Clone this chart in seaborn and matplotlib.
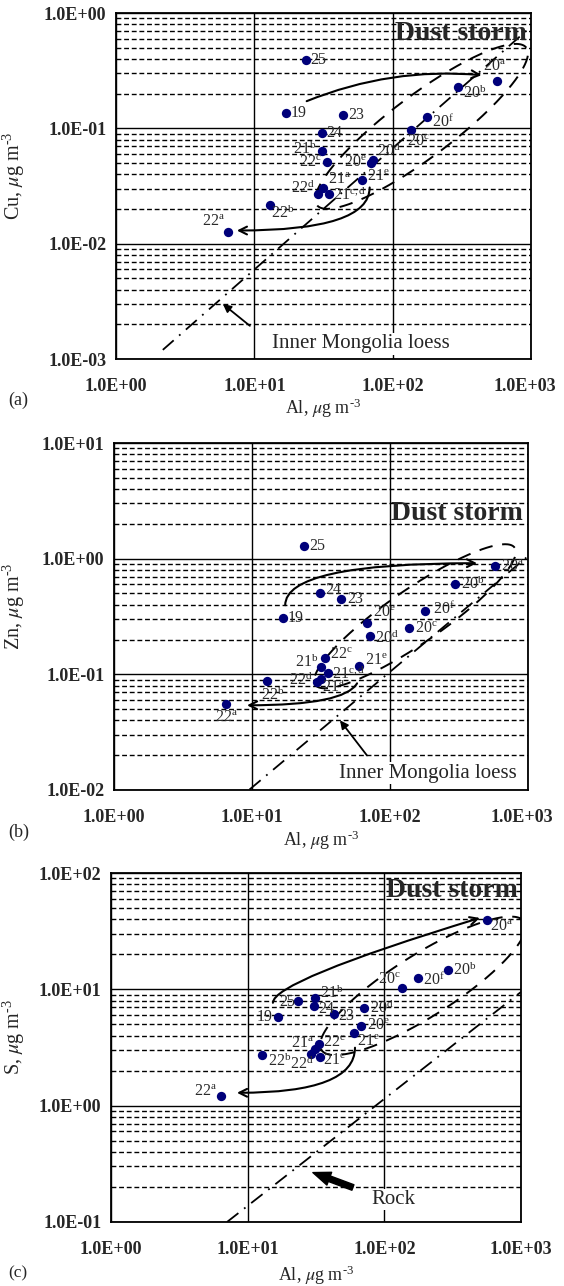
import numpy as np
import matplotlib
matplotlib.use('Agg')
import matplotlib.pyplot as plt
from matplotlib.ticker import LogLocator, NullFormatter, NullLocator
from matplotlib.transforms import ScaledTranslation
import seaborn as sns
import pandas as pd

sns.set_style('white')
plt.rcParams['font.family'] = ['Liberation Serif', 'DejaVu Serif']
plt.rcParams['mathtext.fontset'] = 'stix'

# ---------------- data ----------------
labels_a = ['25', '20a', '20b', '19', '23', '20f', '20c', '24', '21b', '22c',
            '20e', '20d', '21e', '21a', '22d', '21c,d', '22b', '22a']
al_a = [23.5, 564, 295, 16.9, 43.6, 176, 135, 30.7, 30.7, 33.4,
        69.3, 71.5, 59.7, 31.2, 28.7, 34.5, 12.9, 6.44]
cu = [0.39, 0.256, 0.227, 0.135, 0.130, 0.125, 0.096, 0.092, 0.063, 0.0506,
      0.0497, 0.053, 0.036, 0.0301, 0.0267, 0.0272, 0.0218, 0.0125]

labels_b = ['25', '20a', '20b', '24', '23', '20f', '19', '20e', '20c', '20d',
            '22c', '21b', '21e', '21c,d', '21a', '22d', '22b', '22a']
al_b = [23.8, 577, 296, 31.1, 44.2, 179, 16.8, 68, 137, 71.6,
        33.8, 31.6, 59.6, 35.6, 31.6, 29.6, 12.8, 6.5]
zn = [1.28, 0.86, 0.60, 0.50, 0.446, 0.351, 0.305, 0.277, 0.25, 0.213,
      0.138, 0.115, 0.117, 0.102, 0.0906, 0.0853, 0.087, 0.055]

labels_c = ['20a', '20b', '20f', '20c', '25', '21b', '24', '20d', '23', '19',
            '20e', '21e', '22c', '21a', '22d', '21c', '22b', '22a']
al_c = [563, 292, 176, 135, 23.3, 31.0, 30.5, 71, 42.8, 16.7,
        67.5, 60, 33.3, 31, 29, 33.8, 12.7, 6.38]
s_conc = [39.4, 14.6, 12.4, 10.2, 8.0, 8.36, 7.13, 6.86, 6.08, 5.74,
          4.8, 4.18, 3.36, 3.09, 2.8, 2.64, 2.75, 1.2]

# crustal reference lines (two end points each)
loess_a_x, loess_a_y = [2.18, 1000], [0.0012, 0.76]
loess_b_x, loess_b_y = [9.6, 1000], [0.0101, 1.05]
rock_c_x, rock_c_y = [7.06, 1000], [0.1, 9.5]

xticks = [1, 10, 100, 1000]
xticklabels = ['1.0E+00', '1.0E+01', '1.0E+02', '1.0E+03']

UNIT = r'$\mu$g m$^{\mathregular{' + '\u2010' + r'3}}$'

# ---------------- label placement (pixels: dx, dy down, ha) ----------------
offs_a = {'25': (5, 0, 'left'), '20a': (-2, -14, 'center'), '20b': (5, 6, 'left'),
          '19': (5, 0, 'left'), '23': (5, 0, 'left'), '20f': (5, 5, 'left'),
          '20c': (-4, 12, 'left'), '24': (5, 0, 'left'), '21b': (-5, -2, 'right'),
          '22c': (-5, 1, 'right'), '20e': (-4, 0, 'right'), '20d': (4, -9, 'left'),
          '21e': (5, -3, 'left'), '21a': (5, -8, 'left'), '22d': (-3, -6, 'right'),
          '21c,d': (4, 1, 'left'), '22b': (1, 8, 'left'), '22a': (-3, -10, 'right')}
offs_b = {'25': (5, 0, 'left'), '20a': (6, 1, 'left'), '20b': (6, 0, 'left'),
          '24': (5, -3, 'left'), '23': (6, 0, 'left'), '20f': (8, -2, 'left'),
          '19': (5, 0, 'left'), '20e': (6, -10, 'left'), '20c': (6, 1, 'left'),
          '20d': (5, 2, 'left'), '22c': (5, -3, 'left'), '21b': (-3, -5, 'right'),
          '21e': (6, -5, 'left'), '21c,d': (4, 1, 'left'), '21a': (1, 9, 'left'),
          '22d': (-4, -2, 'right'), '22b': (6, 14, 'center'), '22a': (0, 14, 'center')}
offs_c = {'20a': (3, 7, 'left'), '20b': (5, 0, 'left'), '20f': (5, 2, 'left'),
          '20c': (-1, -8, 'right'), '25': (-3, 1, 'right'), '21b': (5, -5, 'left'),
          '24': (4, 3, 'left'), '20d': (6, 0, 'left'), '23': (4, 2, 'left'),
          '19': (-5, 0, 'right'), '20e': (6, 0, 'left'), '21e': (3, 9, 'left'),
          '22c': (4, -1, 'left'), '21a': (-1, -5, 'right'), '22d': (3, 10, 'right'),
          '21c': (3, 4, 'left'), '22b': (6, 6, 'left'), '22a': (-4, -4, 'right')}


def sup(lab):
    if lab[-1].isdigit():
        return lab
    return r'$\mathregular{%s^{%s}}$' % (lab[:2], lab[2:])


fig = plt.figure(figsize=(5.64, 12.86), dpi=100)
W, H = 564, 1286


def make_ax(l, r, t, b):
    return fig.add_axes([l / W, 1 - b / H, (r - l) / W, (b - t) / H])


def draw_panel(ax, x, y, labels, offs, ylim, ylab, xlab_y, ylab_x, storm_xy, last_dx):
    df = pd.DataFrame({'Al': x, 'v': y, 'lab': labels})
    sns.scatterplot(data=df, x='Al', y='v', ax=ax, color='#00007a', s=45,
                    linewidth=0, zorder=5)
    ax.set_xscale('log')
    ax.set_yscale('log')
    ax.set_xlim(1, 1000)
    ax.set_ylim(*ylim)
    ax.set_xticks(xticks)
    ax.set_xticklabels(xticklabels, fontweight='bold', fontsize=13)
    ax.xaxis.set_minor_locator(NullLocator())
    yt = [ylim[0] * 10 ** i for i in range(4)]
    ax.set_yticks(yt)
    ax.set_yticklabels(['%.1E' % v for v in yt], fontweight='bold', fontsize=13)
    ax.yaxis.set_minor_locator(LogLocator(base=10, subs=range(2, 10)))
    ax.yaxis.set_minor_formatter(NullFormatter())
    ax.tick_params(which='both', length=0)
    ax.tick_params(axis='x', pad=14)
    ax.tick_params(axis='y', pad=7)
    ax.yaxis.grid(True, which='major', color='k', lw=1.0, ls='-')
    ax.yaxis.grid(True, which='minor', color='k', lw=1.0, ls=(0, (3.5, 2)))
    ax.xaxis.grid(True, which='major', color='k', lw=1.0, ls='-')
    for sp in ax.spines.values():
        sp.set_color('k')
        sp.set_linewidth(1.3)
    last = ax.get_xticklabels()[-1]
    last.set_transform(last.get_transform() +
                       ScaledTranslation(last_dx / 100, 0, fig.dpi_scale_trans))
    ax.set_xlabel('Al, ' + UNIT, fontsize=13)
    ax.xaxis.set_label_coords(0.5, xlab_y)
    ax.set_ylabel(ylab + ', ' + UNIT, fontsize=14.5)
    ax.yaxis.set_label_coords(ylab_x, 0.529)
    for xi, yi, lb in zip(x, y, labels):
        dx, dy, ha = offs[lb]
        ax.annotate(sup(lb), (xi, yi), xytext=(dx, -dy), textcoords='offset pixels',
                    ha=ha, va='center', fontsize=11.5, color='#2a2a2a', zorder=6)
    ax.text(storm_xy[0], storm_xy[1], 'Dust storm', transform=ax.transAxes, ha='right',
            va='center', fontsize=20, fontweight='bold', zorder=7)


def envelope(ax, cxl, cyl, a, b, theta):
    pos = ax.get_position()
    kx = pos.width * W / 3
    ky = pos.height * H / 3
    t = np.linspace(0, 2 * np.pi, 300)
    th = np.radians(theta)
    X = a * np.cos(t) * np.cos(th) - b * np.sin(t) * np.sin(th)
    Y = a * np.cos(t) * np.sin(th) + b * np.sin(t) * np.cos(th)
    ax.plot(10 ** (cxl + X / kx), 10 ** (cyl + Y / ky), color='k', lw=1.4,
            ls=(0, (7, 5)), zorder=4)


def arrow(ax, tail, head, conn='arc3', style='->', lw=1.5, ms=14):
    ax.annotate('', xy=head, xytext=tail,
                arrowprops=dict(arrowstyle=style, color='k', lw=lw,
                                connectionstyle=conn, shrinkA=0, shrinkB=0,
                                mutation_scale=ms), zorder=6)


# ---------------- (a) Cu ----------------
ax_a = make_ax(116, 531, 13, 359)
draw_panel(ax_a, al_a, cu, labels_a, offs_a, (1e-3, 1), 'Cu',
           -0.107, -0.214, (0.99, 0.942), -6)
ax_a.plot(loess_a_x, loess_a_y, color='k', lw=1.3, ls=(0, (8, 4, 1, 4)), zorder=4)
envelope(ax_a, 2.209, -0.983, 131, 31, 36.9)
arrow(ax_a, (23.9, 0.172), (439, 0.289), 'arc3,rad=-0.12')
arrow(ax_a, (68.2, 0.0307), (7.48, 0.013), 'angle3,angleA=90,angleB=0')
arrow(ax_a, (9.28, 0.00194), (5.92, 0.0030), 'arc3', '-|>', 1.3, 12)
ax_a.text(58.7, 0.00135, 'Inner Mongolia loess', ha='center', va='center', fontsize=15,
          bbox=dict(fc='white', ec='none', pad=1), zorder=7)
fig.text(8 / W, 1 - 400 / H, '(a)', fontsize=13, va='center')

# ---------------- (b) Zn ----------------
ax_b = make_ax(114, 528, 443, 790)
draw_panel(ax_b, al_b, zn, labels_b, offs_b, (1e-2, 10), 'Zn',
           -0.11, -0.21, (0.988, 0.798), -6)
ax_b.plot(loess_b_x, loess_b_y, color='k', lw=1.3, ls=(0, (8, 4, 1, 4)), zorder=4)
envelope(ax_b, 2.181, -0.498, 121, 27, 34.5)
arrow(ax_b, (17.4, 0.396), (427, 0.914), 'angle3,angleA=90,angleB=0')
arrow(ax_b, (57.7, 0.0836), (9.2, 0.054), 'angle3,angleA=60,angleB=0')
arrow(ax_b, (68.1, 0.0199), (43.4, 0.040), 'arc3', '-|>', 1.3, 12)
ax_b.text(188, 0.0139, 'Inner Mongolia loess', ha='center', va='center', fontsize=15,
          bbox=dict(fc='white', ec='none', pad=1), zorder=7)
fig.text(8 / W, 1 - 832 / H, '(b)', fontsize=13, va='center')

# ---------------- (c) S ----------------
ax_c = make_ax(111, 521, 873, 1222)
draw_panel(ax_c, al_c, s_conc, labels_c, offs_c, (0.1, 100), 'S',
           -0.12, -0.205, (0.993, 0.951), 0)
ax_c.plot(rock_c_x, rock_c_y, color='k', lw=1.3, ls=(0, (8, 4, 1, 4)), zorder=4)
envelope(ax_c, 2.282, 1.030, 120, 31, 32.3)
arrow(ax_c, (15.3, 7.66), (500, 41.1), 'angle3,angleA=90,angleB=17')
arrow(ax_c, (61, 3.15), (8.35, 1.29), 'angle3,angleA=90,angleB=0')
arrow(ax_c, (58.9, 0.198), (30.0, 0.266), 'arc3',
      'simple,head_width=0.7,head_length=0.9,tail_width=0.3', 1, 14)
ax_c.text(116, 0.156, 'Rock', ha='center', va='center', fontsize=15,
          bbox=dict(fc='white', ec='none', pad=0.5), zorder=7)
fig.text(8 / W, 1 - 1273 / H, '(c)', fontsize=12.5, va='center')

fig.savefig('out.png', dpi=100)
